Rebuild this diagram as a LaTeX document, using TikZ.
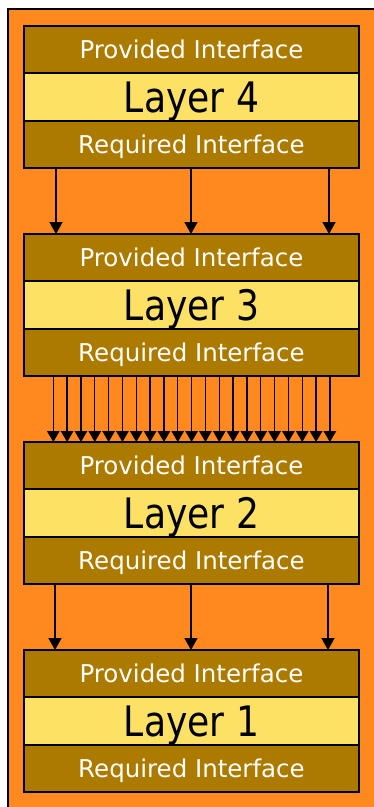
\documentclass[tikz,border=0pt]{standalone}
\usepackage{fontspec}
\setmainfont{DejaVu Sans}
\usepackage{graphicx}
\usepackage{xcolor}
\definecolor{BgOrange}{HTML}{FF891E}
\definecolor{IfBrown}{HTML}{AD7A00}
\definecolor{NameYellow}{HTML}{FDE164}
\usetikzlibrary{arrows.meta,positioning}
\newcommand\BoxWidth{335pt}
\newcommand\BandHeight{47.33pt}
\newcommand\MidX{191.5}
\newcommand\LayerName[1]{\scalebox{0.86}[1]{Layer #1}}
\tikzstyle{iface}=[rectangle,draw=black,line width=2pt,fill=IfBrown,text=white,
                     outer sep=0pt,inner sep=0pt,text height=17.5pt,text depth=0pt,
                     minimum height=\BandHeight,minimum width=\BoxWidth,
                     font=\fontsize{24.5}{28}\selectfont]
\tikzstyle{lname}=[iface,fill=NameYellow,text=black,text height=30.5pt,
                     font=\fontsize{42}{46}\selectfont]
\tikzstyle{feed}=[line width=1.6pt,-{Triangle[width=13pt,length=12pt]}]
\tikzstyle{thinfeed}=[line width=1.4pt,-{Triangle[width=12.5pt,length=11pt]}]

\begin{document}
\begin{tikzpicture}[x=1pt,y=-1pt]
      \useasboundingbox (0,0) rectangle (373,807);
      \fill[BgOrange] (7.5,8.5) rectangle (390,820);
      \draw[line width=2pt] (7.5,820) -- (7.5,8.5) -- (390,8.5);
      \node[iface] (prov4) at (\MidX,49.67) {Provided Interface};
      \node[lname,below=0pt of prov4] (name4) {\LayerName{4}};
      \node[iface,below=0pt of name4] (req4) {Required Interface};
      \node[iface] (prov3) at (\MidX,257.67) {Provided Interface};
      \node[lname,below=0pt of prov3] (name3) {\LayerName{3}};
      \node[iface,below=0pt of name3] (req3) {Required Interface};
      \node[iface] (prov2) at (\MidX,465.67) {Provided Interface};
      \node[lname,below=0pt of prov2] (name2) {\LayerName{2}};
      \node[iface,below=0pt of name2] (req2) {Required Interface};
      \node[iface] (prov1) at (\MidX,673.67) {Provided Interface};
      \node[lname,below=0pt of prov1] (name1) {\LayerName{1}};
      \node[iface,below=0pt of name1] (req1) {Required Interface};
      \foreach \x in {56,191,329}
         \draw[feed] (req4.south -| \x,0) -- (prov3.north -| \x,0);
      \foreach \i [evaluate=\i as \x using 53.3+13.83*\i] in {0,...,20}
         \draw[thinfeed] (req3.south -| \x,0) -- (prov2.north -| \x,0);
      \foreach \x in {55,191,328}
         \draw[feed] (req2.south -| \x,0) -- (prov1.north -| \x,0);
   \end{tikzpicture}
\end{document}
